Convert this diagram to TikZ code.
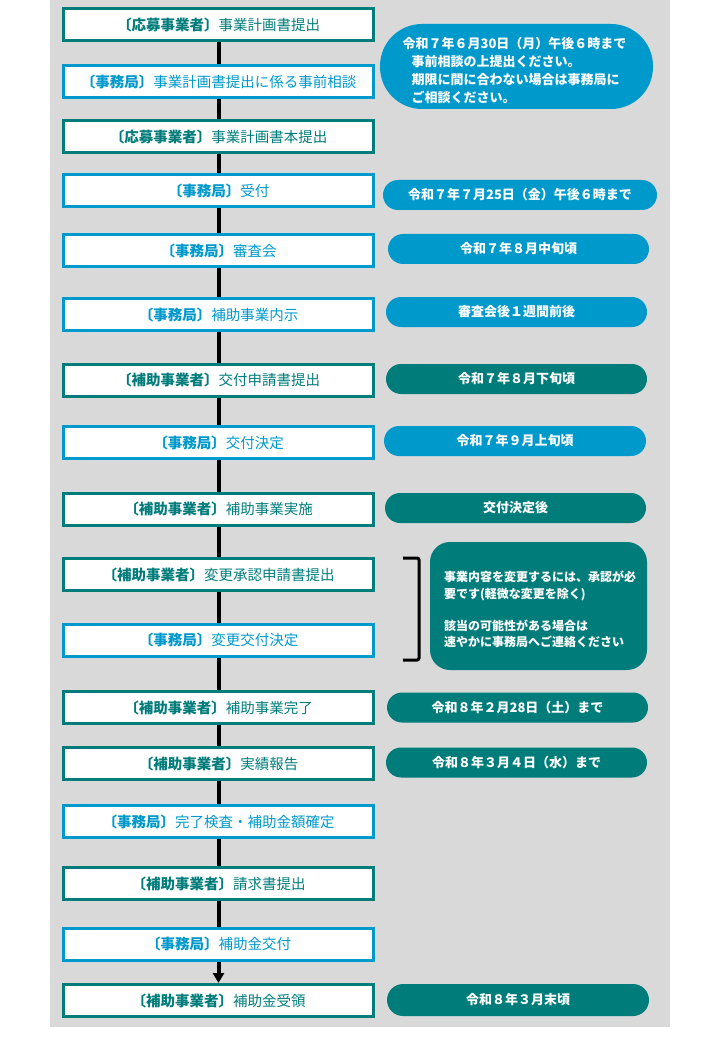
\documentclass[tikz,border=0pt]{standalone}
\usepackage{fontspec}
\setmainfont{Noto Sans CJK JP}
\usetikzlibrary{arrows.meta}
\definecolor{tealc}{RGB}{0,125,123}
\definecolor{bluec}{RGB}{0,153,204}
\definecolor{bgc}{RGB}{217,217,217}
\tikzset{
  box/.style={draw, line width=3pt, fill=white, minimum width=310pt, minimum height=32pt, inner sep=0pt, font=\fontsize{14.5}{17}\selectfont},
  tbox/.style={box, draw=tealc, text=tealc},
  bbox/.style={box, draw=bluec, text=bluec},
  pill/.style={rounded corners=15pt, minimum height=30pt, inner sep=0pt, text=white, font=\bfseries\fontsize{13}{15}\selectfont},
  tpill/.style={pill, fill=tealc},
  bpill/.style={pill, fill=bluec},
  conn/.style={line width=4pt, draw=black},
}
\begin{document}
\begin{tikzpicture}[x=1pt, y=-1pt]
\useasboundingbox (0,0) rectangle (720,1040);
\fill[bgc] (50,0) rectangle (670,1027);

% left column boxes
\node[tbox] (b1)  at (218.5,25)    {{\bfseries 〔応募事業者〕}事業計画書提出};
\node[bbox] (b2)  at (218.5,81.5)  {{\bfseries 〔事務局〕}事業計画書提出に係る事前相談};
\node[tbox] (b3)  at (218.5,136.5) {{\bfseries 〔応募事業者〕}事業計画書本提出};
\node[bbox] (b4)  at (218.5,191)   {{\bfseries 〔事務局〕}受付};
\node[bbox] (b5)  at (218.5,251)   {{\bfseries 〔事務局〕}審査会};
\node[bbox] (b6)  at (218.5,314.5) {{\bfseries 〔事務局〕}補助事業内示};
\node[tbox] (b7)  at (218.5,380)   {{\bfseries 〔補助事業者〕}交付申請書提出};
\node[bbox] (b8)  at (218.5,442.5) {{\bfseries 〔事務局〕}交付決定};
\node[tbox] (b9)  at (218.5,509)   {{\bfseries 〔補助事業者〕}補助事業実施};
\node[tbox] (b10) at (218.5,574.5) {{\bfseries 〔補助事業者〕}変更承認申請書提出};
\node[bbox] (b11) at (218.5,640)   {{\bfseries 〔事務局〕}変更交付決定};
\node[tbox] (b12) at (218.5,707.5) {{\bfseries 〔補助事業者〕}補助事業完了};
\node[tbox] (b13) at (218.5,763.5) {{\bfseries 〔補助事業者〕}実績報告};
\node[bbox] (b14) at (218.5,821.5) {{\bfseries 〔事務局〕}完了検査・補助金額確定};
\node[tbox] (b15) at (218.5,883.5) {{\bfseries 〔補助事業者〕}請求書提出};
\node[bbox] (b16) at (218.5,944)   {{\bfseries 〔事務局〕}補助金交付};
\node[tbox] (b17) at (218.5,1000.5){{\bfseries 〔補助事業者〕}補助金受領};

% connectors
\foreach \a/\b in {b1/b2,b2/b3,b3/b4,b4/b5,b5/b6,b6/b7,b7/b8,b8/b9,b9/b10,b10/b11,b11/b12,b12/b13,b13/b14,b14/b15,b15/b16}
  \draw[conn] (\a) -- (\b);
\draw[conn, -{Triangle[width=11pt,length=10pt]}] (b16) -- (b17);

% right column
\node[bpill, rounded corners=42pt, minimum width=273pt, minimum height=85pt] (p1) at (516.5,66.5) {};
\node[text=white, font=\bfseries\fontsize{13}{18}\selectfont, align=left, inner sep=0pt] (p1t) at (514.5,70.5)
  {令和７年６月30日（月）午後６時まで\\\hspace*{9pt}事前相談の上提出ください。\\\hspace*{9pt}期限に間に合わない場合は事務局に\\\hspace*{9pt}ご相談ください。};
\node[bpill, minimum width=274pt] (p2) at (520,195)   {令和７年７月25日（金）午後６時まで};
\node[bpill, minimum width=261pt] (p3) at (518.5,249) {令和７年８月中旬頃};
\node[bpill, minimum width=261pt] (p4) at (516.5,312) {審査会後１週間前後};
\node[tpill, minimum width=261pt] (p5) at (516.5,379) {令和７年８月下旬頃};
\node[bpill, minimum width=262pt] (p6) at (515,441)   {令和７年９月上旬頃};
\node[tpill, minimum width=261pt] (p7) at (515.5,508) {交付決定後};
\node[tpill, minimum width=261pt] (p8) at (517.5,707.5) {令和８年２月28日（土）まで};
\node[tpill, minimum width=261pt] (p9) at (516.5,762.5) {令和８年３月４日（水）まで};
\node[tpill, minimum width=262pt, minimum height=32pt, rounded corners=16pt] (p10) at (518,1000) {令和８年３月末頃};

% bracket and note
\draw[line width=3pt, rounded corners=2pt] (403,558) -- (419,558) -- (419,660) -- (403,660);
\node[fill=tealc, rounded corners=20pt, minimum width=217pt, minimum height=128pt, inner sep=0pt] (note) at (538.5,606) {};
\node[text=white, font=\bfseries\fontsize{12}{16.3}\selectfont, align=left, inner sep=0pt] (notet) at (540,609.5)
  {事業内容を変更するには、承認が必\\要です(軽微な変更を除く)\\[16pt]該当の可能性がある場合は\\速やかに事務局へご連絡ください};
\end{tikzpicture}
\end{document}
